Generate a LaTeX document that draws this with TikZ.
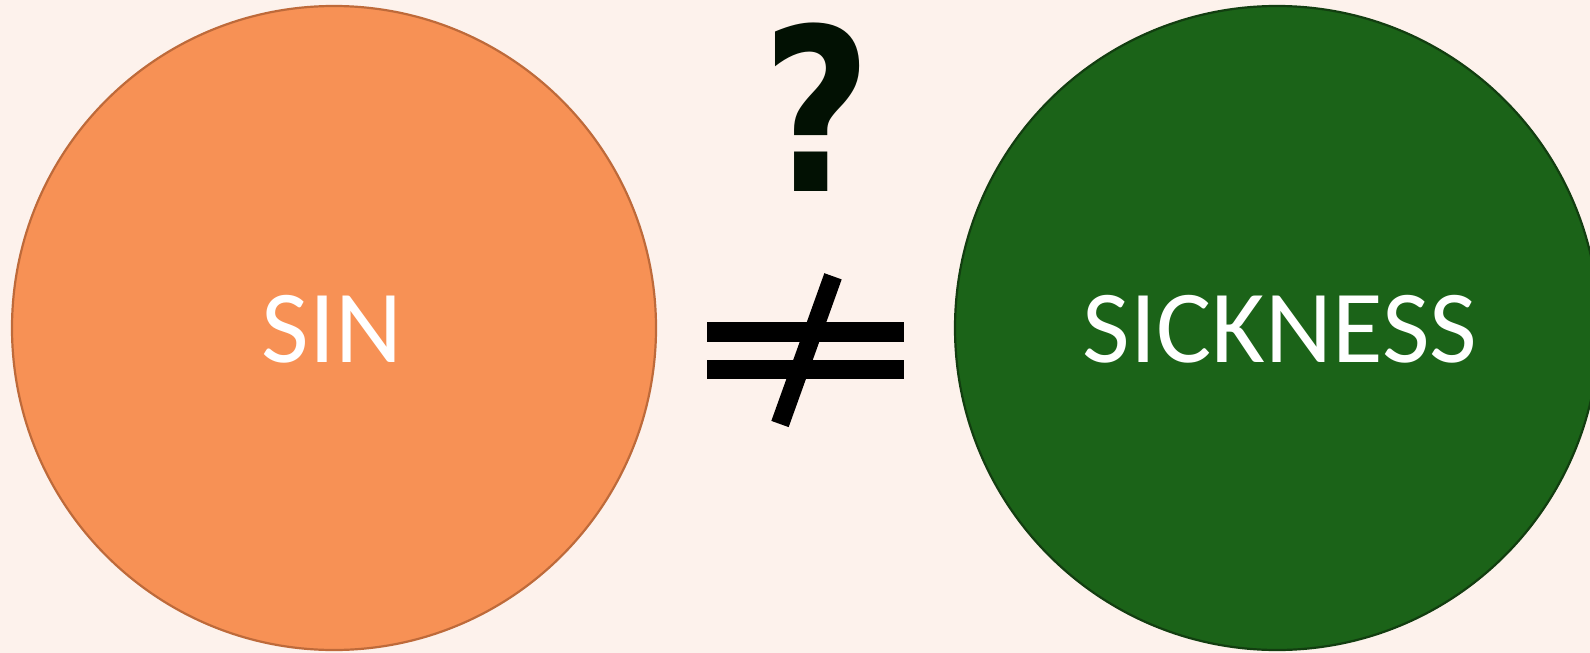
\documentclass[tikz,border=0pt]{standalone}
\usepackage{fontspec}
\usepackage{graphicx}
\setmainfont{Carlito}
\newfontfamily\qfont{DejaVu Sans}
\definecolor{bgc}{RGB}{253,242,236}
\definecolor{orangefill}{RGB}{247,145,85}
\definecolor{orangeline}{RGB}{190,106,58}
\definecolor{greenfill}{RGB}{27,99,24}
\definecolor{greenline}{RGB}{18,62,16}
\definecolor{qcol}{RGB}{2,17,3}
\tikzset{
  bubble/.style={circle, minimum size=644bp, inner sep=0pt, line width=2.2bp},
  label/.style={text=white, font=\fontsize{104}{110}\selectfont, inner sep=0pt, anchor=center},
  neqbar/.style={fill=black, draw=none},
}
\begin{document}
\begin{tikzpicture}[x=1bp,y=-1bp]
\useasboundingbox (0,0) rectangle (1590,653);
\clip (0,0) rectangle (1590,653);
\fill[bgc] (0,0) rectangle (1590,653);
\node[bubble, fill=orangefill, draw=orangeline] (sin) at (334,328) {};
\node[bubble, fill=greenfill, draw=greenline] (sick) at (1277,328) {};
\node[label] (sintext) at (332,329) {SIN};
\node[label] (sicktext) at (1280,329) {SICKNESS};
\node[text=qcol, font=\qfont\bfseries\fontsize{228}{250}\selectfont, inner sep=0pt] (q) at (817,107.5) {\scalebox{0.83}[1]{?}};
% not-equal sign
\fill[neqbar] (707,322) rectangle (904,342);
\fill[neqbar] (707,360) rectangle (904,379);
\coordinate (sa) at (780,424);
\coordinate (sb) at (833,276.3);
\draw[line width=18.4bp, black] (sa) -- (sb);
\end{tikzpicture}
\end{document}
